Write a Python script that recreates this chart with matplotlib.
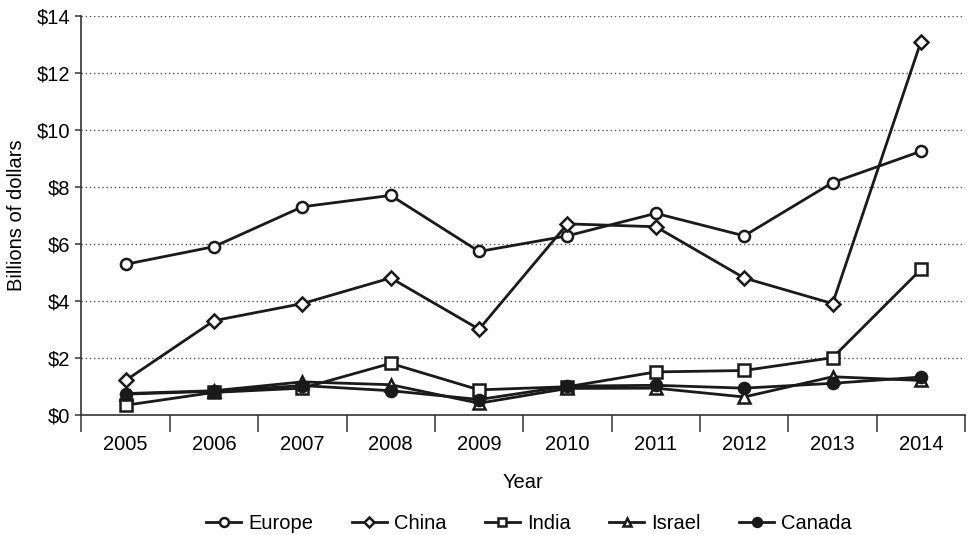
import matplotlib.pyplot as plt
import numpy as np

plt.rcParams['font.family'] = ['Liberation Sans', 'DejaVu Sans']

years = ['2005', '2006', '2007', '2008', '2009', '2010', '2011', '2012', '2013', '2014']
europe = [5.28, 5.9, 7.3, 7.7, 5.73, 6.28, 7.07, 6.28, 8.15, 9.25]
china = [1.2, 3.3, 3.9, 4.8, 3.0, 6.7, 6.6, 4.8, 3.9, 13.1]
india = [0.33, 0.78, 0.93, 1.8, 0.87, 0.98, 1.5, 1.55, 2.0, 5.1]
israel = [0.74, 0.84, 1.15, 1.05, 0.4, 0.92, 0.93, 0.62, 1.33, 1.2]
canada = [0.72, 0.82, 1.02, 0.84, 0.53, 1.0, 1.03, 0.93, 1.1, 1.32]

series = [('Europe', europe, 'o', 'white'),
          ('China', china, 'D', 'white'),
          ('India', india, 's', 'white'),
          ('Israel', israel, '^', 'white'),
          ('Canada', canada, 'o', '#1a1a1a')]

fs = 14.5

fig = plt.figure(figsize=(9.69, 5.35), dpi=100)
ax = fig.add_axes([0.084, 0.225, 0.912, 0.745])

x = np.arange(len(years))
for name, vals, mk, fc in series:
    ms = 7 if mk == 'D' else 8
    ax.plot(x, vals, color='#1a1a1a', lw=2.0, marker=mk, markersize=ms,
            markerfacecolor=fc, markeredgecolor='#1a1a1a', markeredgewidth=1.8,
            label=name, clip_on=False, zorder=3)

ax.set_xlim(-0.5, len(years) - 0.5)
ax.set_ylim(0, 14)

# year labels centred, tick marks between the categories
ax.set_xticks(x)
ax.set_xticklabels(years)
ax.tick_params(axis='x', which='major', length=0, pad=15, labelsize=fs)
ax.set_xticks(np.arange(-0.5, len(years)), minor=True)
ax.tick_params(axis='x', which='minor', length=12, width=1.1, color='#333333')

yt = np.arange(0, 15, 2)
ax.set_yticks(yt)
ax.set_yticklabels(['$%d' % v for v in yt])
ax.tick_params(axis='y', length=4, width=1.1, color='#333333', labelsize=fs, pad=4)

for v in yt[1:]:
    ax.axhline(v, color='#555555', lw=1.0, ls=(0, (1, 2)), zorder=1)

for s in ['top', 'right']:
    ax.spines[s].set_visible(False)
for s in ['left', 'bottom']:
    ax.spines[s].set_color('#333333')
    ax.spines[s].set_linewidth(1.2)

ax.set_xlabel('Year', fontsize=fs, labelpad=13)
ax.set_ylabel('Billions of dollars', fontsize=fs, labelpad=8)

fig.legend(loc='lower center', bbox_to_anchor=(0.546, -0.03), ncol=5, frameon=False,
           fontsize=fs, handlelength=1.75, columnspacing=1.9, handletextpad=0.35,
           markerscale=0.8)

fig.savefig('out.png', dpi=100)
